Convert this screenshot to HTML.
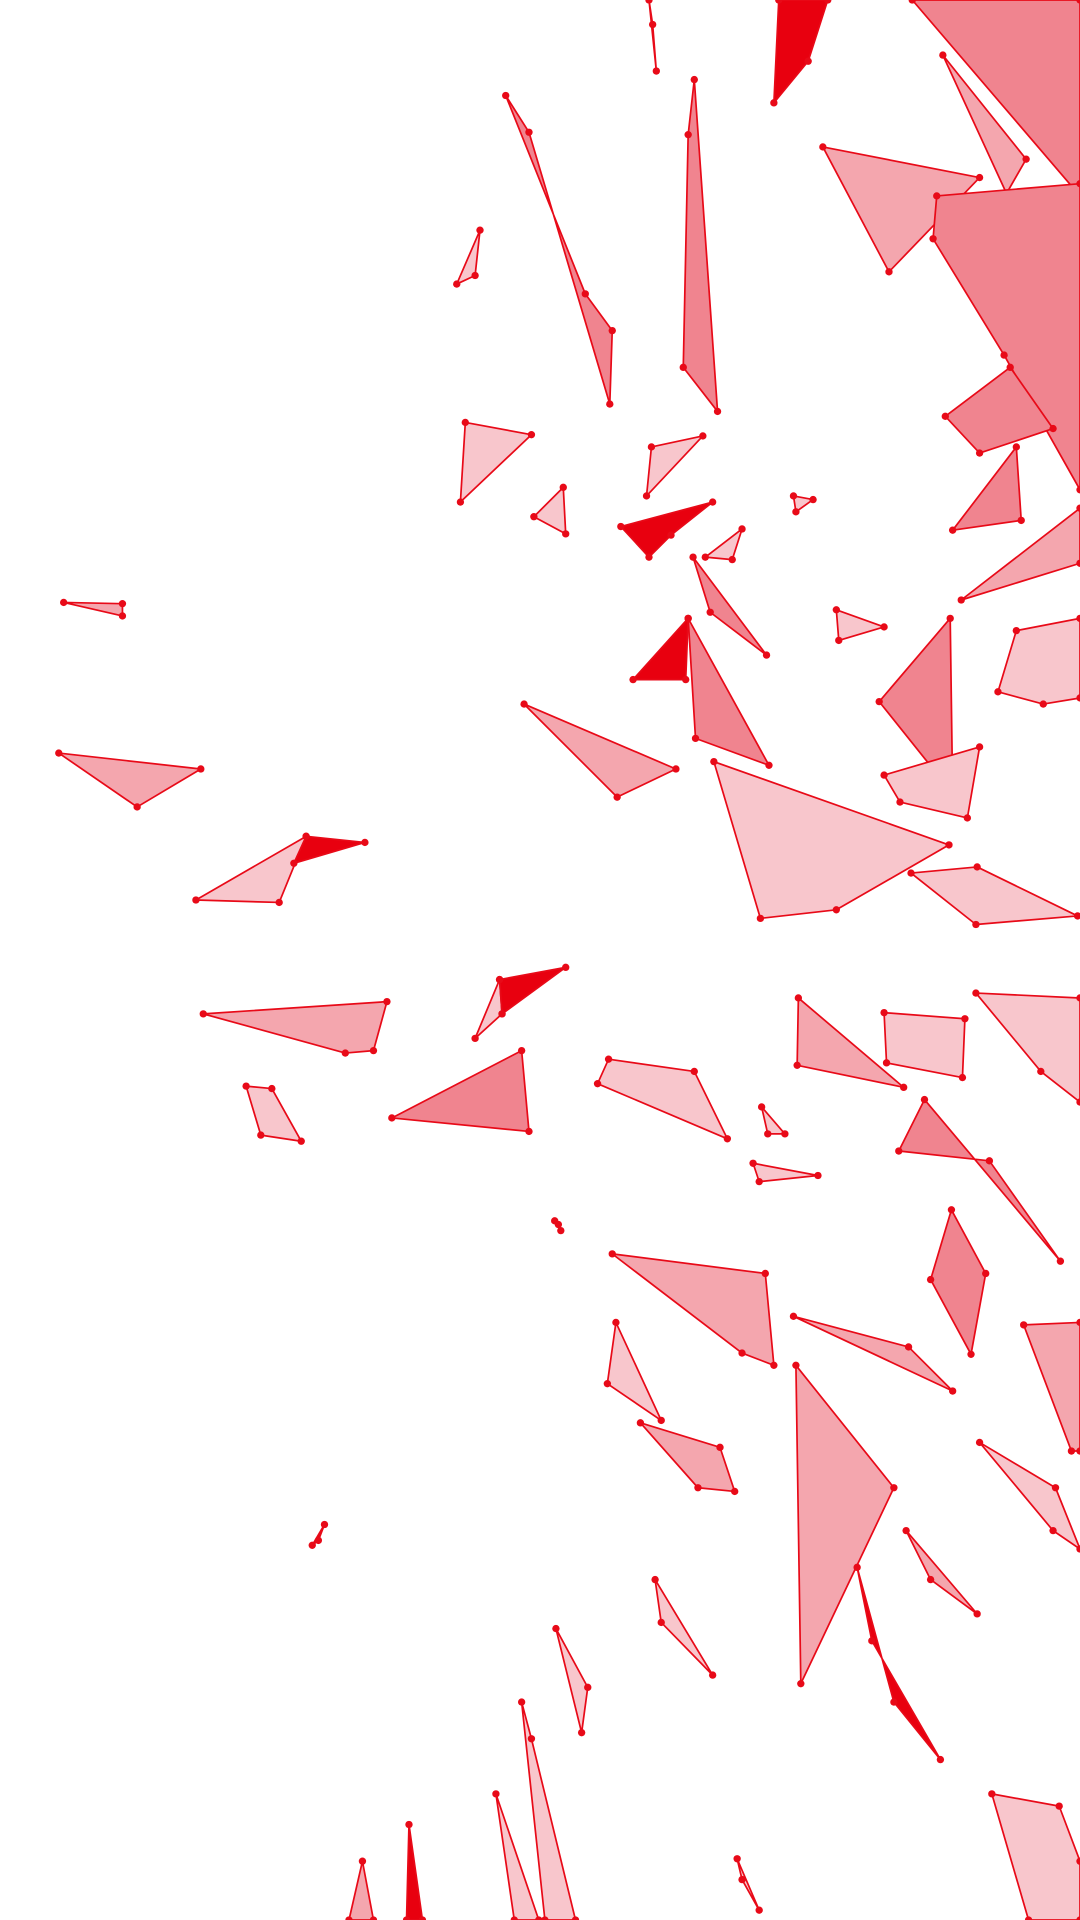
<!DOCTYPE html>
<html><head><meta charset="utf-8"><style>
html,body{margin:0;padding:0;background:#fff;width:1080px;height:1920px;overflow:hidden}
svg{display:block}
</style></head><body>
<svg id="art" width="1080" height="1920" viewBox="0 0 882 1568" xmlns="http://www.w3.org/2000/svg"></svg>
<script>
const shards = [
[[745,0],[882,0],[882,160]],
[[770,45],[838,130],[822,158]],
[[672,120],[800,145],[726,222]],
[[765,160],[882,150],[882,400],[820,290],[762,195]],
[[772,340],[825,300],[860,350],[800,370]],
[[778,433],[830,365],[834,425]],
[[785,490],[882,415],[882,460]],
[[815,565],[830,515],[882,505],[882,570],[852,575]],
[[413,78],[432,108],[498,330],[500,270],[478,240]],
[[567,65],[586,336],[558,300],[562,110]],
[[636,0],[676,0],[660,50],[632,84]],
[[530,0],[536,58],[533,20]],
[[373,232],[392,188],[388,225]],
[[380,345],[434,355],[376,410]],
[[436,422],[460,398],[462,436]],
[[528,405],[532,365],[574,356]],
[[507,430],[582,410],[548,437],[530,455]],
[[576,455],[606,432],[598,457]],
[[648,405],[664,408],[650,418]],
[[52,492],[100,493],[100,503]],
[[48,615],[164,628],[112,659]],
[[160,735],[250,683],[228,737]],
[[240,705],[250,683],[298,688]],
[[517,555],[562,505],[560,555]],
[[566,455],[626,535],[580,500]],
[[562,505],[628,625],[568,603]],
[[428,575],[552,628],[504,651]],
[[583,622],[775,690],[683,743],[621,750]],
[[683,498],[722,512],[685,523]],
[[718,573],[776,505],[778,648]],
[[722,633],[800,610],[790,668],[735,655]],
[[744,713],[798,708],[880,748],[797,755]],
[[166,828],[316,818],[305,858],[282,860]],
[[388,848],[408,800],[410,828]],
[[408,800],[462,790],[410,828]],
[[320,913],[426,858],[432,924]],
[[201,887],[222,889],[246,932],[213,927]],
[[488,885],[497,865],[567,875],[594,930]],
[[652,815],[738,888],[651,870]],
[[722,827],[788,832],[786,880],[724,868]],
[[797,811],[882,815],[882,900],[850,875]],
[[622,904],[641,926],[627,926]],
[[615,950],[668,960],[620,965]],
[[734,940],[755,898],[866,1030],[808,948]],
[[500,1024],[625,1040],[632,1115],[606,1105]],
[[648,1075],[742,1100],[778,1136]],
[[760,1045],[777,988],[805,1040],[793,1106]],
[[836,1082],[882,1080],[882,1185],[875,1185]],
[[496,1130],[503,1080],[540,1160]],
[[523,1162],[588,1182],[600,1218],[570,1215]],
[[650,1115],[730,1215],[654,1375]],
[[700,1280],[712,1340],[768,1437],[730,1390]],
[[740,1250],[798,1318],[760,1290]],
[[800,1178],[862,1215],[882,1265],[860,1250]],
[[535,1290],[582,1368],[540,1325]],
[[454,1330],[480,1378],[475,1415]],
[[426,1390],[434,1420],[470,1568],[445,1568]],
[[405,1465],[440,1568],[420,1568]],
[[296,1520],[305,1568],[285,1568]],
[[334,1490],[345,1568],[332,1568]],
[[810,1465],[865,1475],[882,1520],[882,1568],[840,1568]],
[[602,1518],[620,1560],[606,1535]],
[[255,1262],[265,1245],[260,1258]],
[[453,997],[458,1005],[456,1000]]
];
const tones = [2,1,1,2,2,2,1,0,2,2,3,3,0,0,0,0,3,0,0,1,1,0,3,3,2,2,1,0,0,2,0,0,1,0,3,2,0,0,1,0,0,0,0,2,1,1,2,1,0,1,1,3,1,0,0,0,0,0,1,3,0,0,3,3];
const palette = ['#f8c6cc','#f4a6ae','#f0848f','#e8000f'];
const svg = document.getElementById('art');
const NS = 'http://www.w3.org/2000/svg';
shards.forEach((pts, i) => {
  const g = document.createElementNS(NS, 'g');
  
  
  const p = document.createElementNS(NS, 'polygon');
  p.setAttribute('points', pts.map(q => q.join(',')).join(' '));
  p.setAttribute('fill', palette[tones[i]]);
  p.setAttribute('stroke', '#e80a18');
  p.setAttribute('stroke-width', '1.4');
  p.setAttribute('stroke-linejoin', 'round');
  g.appendChild(p);
  pts.forEach(q => {
    const c = document.createElementNS(NS, 'circle');
    c.setAttribute('cx', q[0]); c.setAttribute('cy', q[1]);
    c.setAttribute('r', 3);
    c.setAttribute('fill', '#e80a18');
    g.appendChild(c);
  });
  svg.appendChild(g);
});
</script>
</body></html>
